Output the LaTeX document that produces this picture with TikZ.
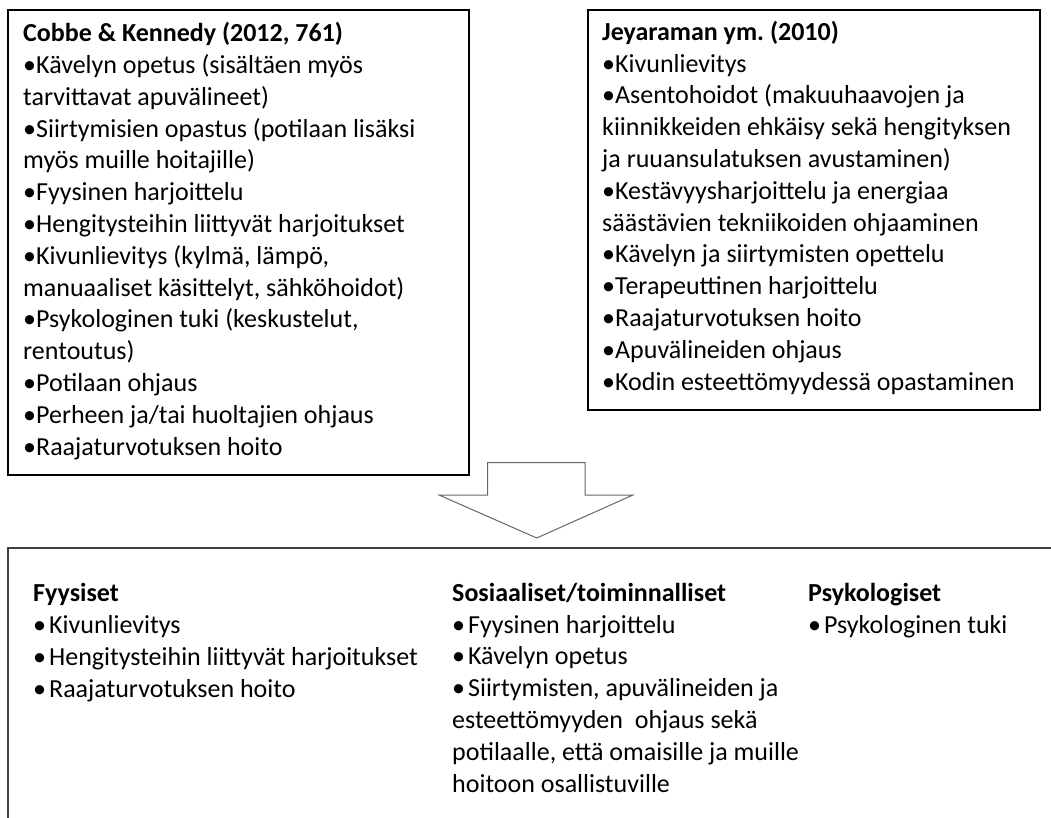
\documentclass[tikz,border=0pt]{standalone}
\usepackage{fontspec}
\setmainfont{Carlito}
\frenchspacing
\begin{document}
\begin{tikzpicture}[x=1pt,y=-1pt]
\tikzset{
  box/.style={draw=black,line width=2pt},
  txt/.style={anchor=base west,inner sep=0pt,align=left,font=\fontsize{26}{31.8}\selectfont},
  bigarrow/.style={draw=black!60,line width=1pt,line join=miter},
  frame/.style={draw=black!75,line width=1.3pt}
}
\useasboundingbox (0,0) rectangle (1051,818);
% left box
\draw[box] (8,10) rectangle (469,475);
\node[txt] (ck) at (23,455) {\textbf{Cobbe \& Kennedy (2012, 761)}\\
•Kävelyn opetus (sisältäen myös\\
tarvittavat apuvälineet)\\
•Siirtymisien opastus (potilaan lisäksi\\
myös muille hoitajille)\\
•Fyysinen harjoittelu\\
•Hengitysteihin liittyvät harjoitukset\\
•Kivunlievitys (kylmä, lämpö,\\
manuaaliset käsittelyt, sähköhoidot)\\
•Psykologinen tuki (keskustelut,\\
rentoutus)\\
•Potilaan ohjaus\\
•Perheen ja/tai huoltajien ohjaus\\
•Raajaturvotuksen hoito};
% right box
\draw[box] (588,10) rectangle (1040,410);
\node[txt] (jy) at (602,390) {\textbf{Jeyaraman ym. (2010)}\\
•Kivunlievitys\\
•Asentohoidot (makuuhaavojen ja\\
kiinnikkeiden ehkäisy sekä hengityksen\\
ja ruuansulatuksen avustaminen)\\
•Kestävyysharjoittelu ja energiaa\\
säästävien tekniikoiden ohjaaminen\\
•Kävelyn ja siirtymisten opettelu\\
•Terapeuttinen harjoittelu\\
•Raajaturvotuksen hoito\\
•Apuvälineiden ohjaus\\
•Kodin esteettömyydessä opastaminen};
% arrow
\draw[bigarrow] (487.7,462.7) -- (585,462.7) -- (585,495) -- (633,495) -- (536.7,538) -- (439,495) -- (487.7,495) -- cycle;
% bottom frame
\draw[frame] (1051,548) -- (8,548) -- (8,818);
\node[txt] (fy) at (33,697) {\textbf{Fyysiset}\\
•\hspace{3pt}Kivunlievitys\\
•\hspace{3pt}Hengitysteihin liittyvät harjoitukset\\
•\hspace{3pt}Raajaturvotuksen hoito};
\node[txt] (so) at (452,792) {\textbf{Sosiaaliset/toiminnalliset}\\
•\hspace{3pt}Fyysinen harjoittelu\\
•\hspace{3pt}Kävelyn opetus\\
•\hspace{3pt}Siirtymisten, apuvälineiden ja\\
esteettömyyden\ \ ohjaus sekä\\
potilaalle, että omaisille ja muille\\
hoitoon osallistuville};
\node[txt] (ps) at (808,633) {\textbf{Psykologiset}\\
•\hspace{3pt}Psykologinen tuki};
\end{tikzpicture}
\end{document}
